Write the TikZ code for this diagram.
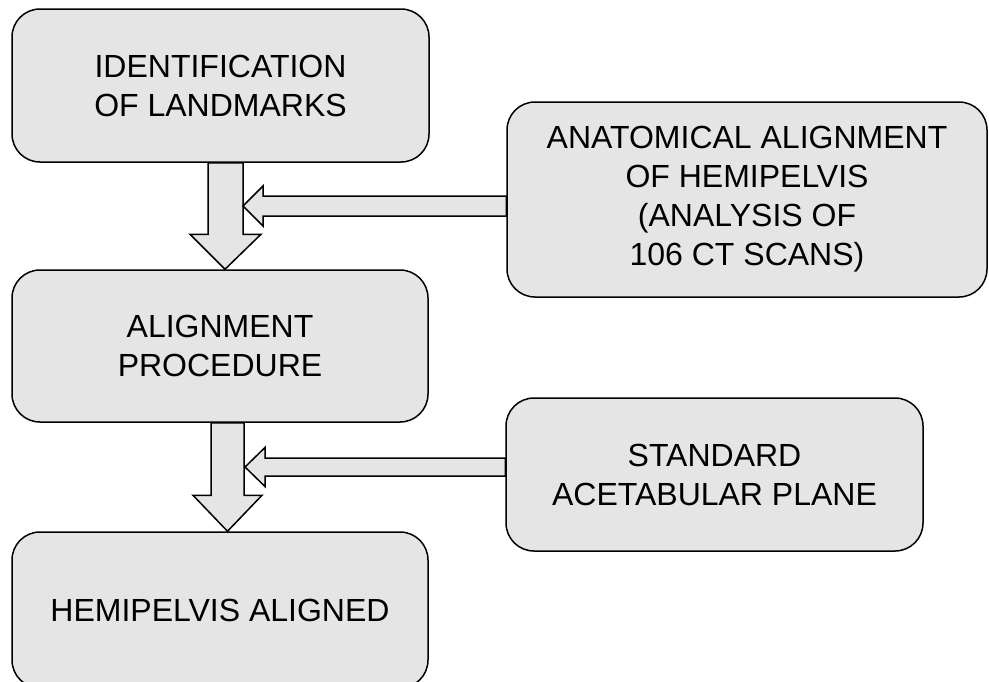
\documentclass[tikz,border=0pt]{standalone}
\usepackage{fontspec}
\setmainfont{Liberation Sans}
\usepackage{tikz}
\usetikzlibrary{positioning, calc}
\tikzset{
stepbox/.style={draw, fill=black!10, line width=0.75pt, rounded corners=14pt, align=center, inner sep=0pt, font=\fontsize{16}{19.5}\selectfont}, % sets the properties for each box
blockarrow/.style={draw, fill=black!10, line width=0.75pt, line join=miter}, % the wide hollow arrows
}

\begin{document}
\begin{tikzpicture}[x=0.5pt, y=-0.5pt]
        %% The page is as large as the reference, one unit is one pixel
        \useasboundingbox (0,0) rectangle (989,681);
        %% The boxes on the left, from top to bottom
        \node[stepbox, minimum width=208.5pt, minimum height=76.5pt] (landmarks) at (220.5,85.5) {IDENTIFICATION\\OF LANDMARKS};
        \node[stepbox, minimum width=208pt, minimum height=76pt] (procedure) at (220,346) {ALIGNMENT\\PROCEDURE};
        \node[stepbox, minimum width=208pt, minimum height=78pt] (aligned) at (220,610) {HEMIPELVIS ALIGNED};
        %% The boxes on the right
        \node[stepbox, minimum width=240pt, minimum height=97.5pt] (anatomical) at (747,199.5) {ANATOMICAL ALIGNMENT\\OF HEMIPELVIS\\(ANALYSIS OF\\106 CT SCANS)};
        \node[stepbox, minimum width=208.5pt, minimum height=76.5pt] (plane) at (714.5,474.5) {STANDARD\\ACETABULAR PLANE};
        %% Down arrows between the boxes on the left
        \coordinate (d1r) at ($(landmarks.south)+(22.5,0)$);
        \coordinate (d2r) at ($(procedure.south)+(24,0)$);
        \draw[blockarrow] ($(landmarks.south)+(-12.5,0)$) -- ($(procedure.north)+(-12,-35)$) -- ++(-18,0) -- ($(procedure.north)+(5,0)$) -- ++(36,-35) -- ++(-18,0) -- (d1r) -- cycle;
        \draw[blockarrow] ($(procedure.south)+(-9,0)$) -- ($(aligned.north)+(-9,-36)$) -- ++(-18,0) -- ($(aligned.north)+(7.5,0)$) -- ++(34.5,-36) -- ++(-18,0) -- (d2r) -- cycle;
        %% Side arrows pointing into the down arrows
        \coordinate (t1) at ($(d1r |- anatomical.west)+(0,6.5)$);
        \coordinate (t2) at ($(d2r |- plane.west)+(1,-7.5)$);
        \draw[blockarrow] ($(anatomical.west)+(0,-3.5)$) -- ($(t1)+(20,-10)$) -- ++(0,-10) -- (t1) -- ++(20,20) -- ++(0,-10) -- ($(anatomical.west)+(0,16.5)$) -- cycle;
        \draw[blockarrow] ($(plane.west)+(0,-16.5)$) -- ($(t2)+(20,-9)$) -- ++(0,-10.5) -- (t2) -- ++(20,19.5) -- ++(0,-10.5) -- ($(plane.west)+(0,1.5)$) -- cycle;
    \end{tikzpicture}
\end{document}
